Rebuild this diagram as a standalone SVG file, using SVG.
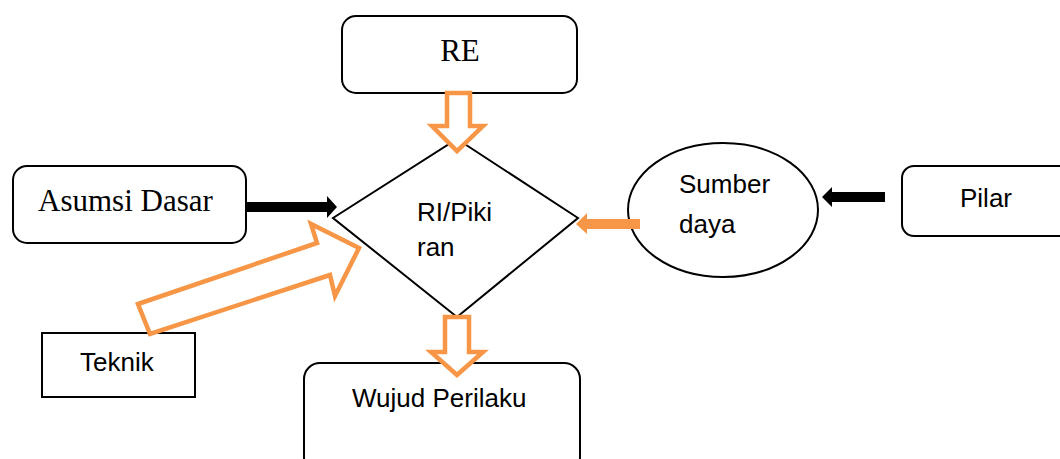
<svg xmlns="http://www.w3.org/2000/svg" width="1060" height="459" viewBox="0 0 1060 459">
<style>
.box{fill:#fff;stroke:#000;stroke-width:2}
.serif{font-family:"Liberation Serif",serif;font-size:31px;fill:#000}
.sans{font-family:"Liberation Sans",Arial,sans-serif;font-size:26px;fill:#000}
.hollow{fill:#fff;stroke:#F79646;stroke-width:4.5;stroke-linejoin:miter}
.solidO{fill:#F79646}
.solidB{fill:#000}
</style>
<rect width="1060" height="459" fill="#fff"/>
<g id="node-re">
<rect class="box" x="342" y="16" width="235" height="77" rx="14"/>
<text class="serif" x="460" y="61" text-anchor="middle">RE</text>
</g>
<g id="node-asumsi">
<rect class="box" x="13" y="166" width="233" height="77" rx="14"/>
<text class="serif" x="38" y="211">Asumsi Dasar</text>
</g>
<g id="node-ri">
<polygon class="box" points="457,139 578,218 457,317 333,218"/>
<text class="sans" x="417" y="221">RI/Piki</text>
<text class="sans" x="417" y="256">ran</text>
</g>
<g id="node-sumber">
<ellipse class="box" cx="723" cy="210" rx="95" ry="67"/>
<text class="sans" x="679" y="193">Sumber</text>
<text class="sans" x="679" y="233">daya</text>
</g>
<g id="node-pilar">
<rect class="box" x="902" y="166" width="170" height="70" rx="12"/>
<text class="sans" x="960" y="207">Pilar</text>
</g>
<g id="node-teknik">
<rect class="box" x="42" y="333" width="153" height="64"/>
<text class="sans" x="80" y="371">Teknik</text>
</g>
<g id="node-wujud">
<rect class="box" x="304" y="363" width="276" height="110" rx="16"/>
<text class="sans" x="352" y="407">Wujud Perilaku</text>
</g>
<g id="connectors">
<polygon class="hollow" points="447,93 470,93 470,126 483,126 457,151 432,126 447,126"/>
<polygon class="hollow" points="445,317 469,317 469,352 483,352 457,375 431,352 445,352"/>
<polygon class="solidB" points="245,202 327,202 327,196 337,207 327,218 327,212 245,212"/>
<polygon class="solidB" points="885,192 832,192 832,187 822,197 832,207 832,202 885,202"/>
<polygon class="solidO" points="640,219 587,219 587,213 576,224 587,234 587,229 640,229"/>
<polygon class="hollow" points="138,304 317,243 311,224 359,248 335,296 330,275 150,334"/>
</g>
</svg>
